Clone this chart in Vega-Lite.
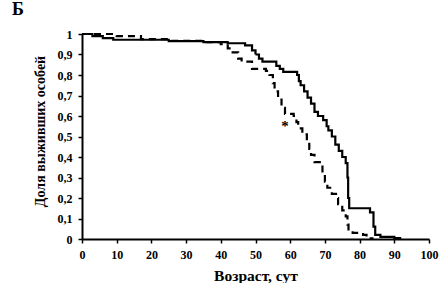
{
  "$schema": "https://vega.github.io/schema/vega-lite/v6.json",
  "width": 347,
  "height": 205,
  "autosize": {"type": "none"},
  "padding": {"left": 82, "top": 34, "right": 13, "bottom": 44},
  "background": "white",
  "title": {"text": "Б", "anchor": "start", "frame": "group", "dx": -70, "dy": 5, "offset": 14, "fontSize": 18, "font": "Liberation Serif", "fontWeight": "bold", "color": "black"},
  "config": {
    "view": {"stroke": null},
    "axis": {"domainColor": "black", "tickColor": "black", "labelColor": "black", "titleColor": "black", "labelFont": "Liberation Serif", "titleFont": "Liberation Serif", "labelFontSize": 12, "labelFontWeight": "bold", "titleFontSize": 14, "titleFontWeight": "bold", "grid": false, "domainWidth": 2, "tickWidth": 1.5, "tickSize": 4}
  },
  "datasets": {
    "curves": [
      {"age": 0, "surv": 1, "group": "A"},
      {"age": 3, "surv": 0.99, "group": "A"},
      {"age": 6, "surv": 0.98, "group": "A"},
      {"age": 9, "surv": 0.972, "group": "A"},
      {"age": 25, "surv": 0.965, "group": "A"},
      {"age": 35, "surv": 0.96, "group": "A"},
      {"age": 42, "surv": 0.955, "group": "A"},
      {"age": 47, "surv": 0.945, "group": "A"},
      {"age": 49, "surv": 0.92, "group": "A"},
      {"age": 50, "surv": 0.9, "group": "A"},
      {"age": 51, "surv": 0.88, "group": "A"},
      {"age": 52, "surv": 0.865, "group": "A"},
      {"age": 56, "surv": 0.845, "group": "A"},
      {"age": 57, "surv": 0.83, "group": "A"},
      {"age": 58, "surv": 0.815, "group": "A"},
      {"age": 62, "surv": 0.8, "group": "A"},
      {"age": 62.5, "surv": 0.77, "group": "A"},
      {"age": 63, "surv": 0.75, "group": "A"},
      {"age": 64, "surv": 0.72, "group": "A"},
      {"age": 65, "surv": 0.69, "group": "A"},
      {"age": 66, "surv": 0.66, "group": "A"},
      {"age": 67, "surv": 0.62, "group": "A"},
      {"age": 68, "surv": 0.6, "group": "A"},
      {"age": 69.5, "surv": 0.58, "group": "A"},
      {"age": 70.5, "surv": 0.55, "group": "A"},
      {"age": 71, "surv": 0.53, "group": "A"},
      {"age": 72, "surv": 0.5, "group": "A"},
      {"age": 73, "surv": 0.46, "group": "A"},
      {"age": 74, "surv": 0.43, "group": "A"},
      {"age": 75, "surv": 0.4, "group": "A"},
      {"age": 76, "surv": 0.37, "group": "A"},
      {"age": 76.5, "surv": 0.3, "group": "A"},
      {"age": 76.7, "surv": 0.2, "group": "A"},
      {"age": 77, "surv": 0.15, "group": "A"},
      {"age": 83, "surv": 0.13, "group": "A"},
      {"age": 84, "surv": 0.06, "group": "A"},
      {"age": 84.5, "surv": 0.02, "group": "A"},
      {"age": 86, "surv": 0.01, "group": "A"},
      {"age": 90, "surv": 0.005, "group": "A"},
      {"age": 92, "surv": 0.005, "group": "A"},
      {"age": 0, "surv": 1, "group": "B"},
      {"age": 10, "surv": 0.99, "group": "B"},
      {"age": 17, "surv": 0.975, "group": "B"},
      {"age": 25, "surv": 0.967, "group": "B"},
      {"age": 35, "surv": 0.96, "group": "B"},
      {"age": 40, "surv": 0.95, "group": "B"},
      {"age": 42, "surv": 0.93, "group": "B"},
      {"age": 43, "surv": 0.91, "group": "B"},
      {"age": 45, "surv": 0.88, "group": "B"},
      {"age": 46, "surv": 0.865, "group": "B"},
      {"age": 49, "surv": 0.83, "group": "B"},
      {"age": 53, "surv": 0.82, "group": "B"},
      {"age": 54, "surv": 0.8, "group": "B"},
      {"age": 55, "surv": 0.76, "group": "B"},
      {"age": 55.5, "surv": 0.72, "group": "B"},
      {"age": 56.5, "surv": 0.68, "group": "B"},
      {"age": 57.5, "surv": 0.64, "group": "B"},
      {"age": 58.5, "surv": 0.61, "group": "B"},
      {"age": 61, "surv": 0.6, "group": "B"},
      {"age": 61.8, "surv": 0.57, "group": "B"},
      {"age": 62.3, "surv": 0.54, "group": "B"},
      {"age": 63.5, "surv": 0.51, "group": "B"},
      {"age": 64.8, "surv": 0.48, "group": "B"},
      {"age": 65.5, "surv": 0.44, "group": "B"},
      {"age": 66, "surv": 0.41, "group": "B"},
      {"age": 67, "surv": 0.375, "group": "B"},
      {"age": 69, "surv": 0.36, "group": "B"},
      {"age": 69.3, "surv": 0.32, "group": "B"},
      {"age": 70, "surv": 0.28, "group": "B"},
      {"age": 70.7, "surv": 0.25, "group": "B"},
      {"age": 72, "surv": 0.22, "group": "B"},
      {"age": 73.2, "surv": 0.2, "group": "B"},
      {"age": 73.8, "surv": 0.17, "group": "B"},
      {"age": 75, "surv": 0.14, "group": "B"},
      {"age": 76, "surv": 0.11, "group": "B"},
      {"age": 76.5, "surv": 0.07, "group": "B"},
      {"age": 76.8, "surv": 0.04, "group": "B"},
      {"age": 78, "surv": 0.03, "group": "B"},
      {"age": 81, "surv": 0.02, "group": "B"},
      {"age": 82, "surv": 0.003, "group": "B"},
      {"age": 84, "surv": 0.003, "group": "B"}
    ],
    "marks": [
      {"age": 58.5, "surv": 0.55, "label": "*"}
    ]
  },
  "layer": [
    {
      "data": {"name": "curves"},
      "mark": {"type": "line", "interpolate": "step-after", "strokeWidth": 2.2, "color": "black"},
      "encoding": {
        "x": {"field": "age", "type": "quantitative", "scale": {"domain": [0, 100], "nice": false}, "axis": {"tickCount": 10, "title": "Возраст, сут", "titleFontSize": 15.5, "titlePadding": 8, "labelPadding": 6, "labelOverlap": false, "labelFlush": false}},
        "y": {"field": "surv", "type": "quantitative", "scale": {"domain": [0, 1], "nice": false}, "axis": {"tickCount": 10, "title": "Доля выживших особей", "titleY": 97, "titlePadding": 10, "labelPadding": 6, "labelOverlap": false, "labelFlush": false, "labelExpr": "datum.value == 0 || datum.value == 1 ? format(datum.value, 'd') : replace(format(datum.value, '.1f'), '.', ',')"}},
        "detail": {"field": "group"},
        "strokeDash": {"field": "group", "type": "nominal", "scale": {"domain": ["A", "B"], "range": [[1, 0], [7, 5]]}, "legend": null}
      }
    },
    {
      "data": {"name": "marks"},
      "mark": {"type": "text", "font": "Liberation Serif", "fontSize": 15, "fontWeight": "bold", "fill": "black", "baseline": "middle", "align": "center"},
      "encoding": {
        "x": {"field": "age", "type": "quantitative"},
        "y": {"field": "surv", "type": "quantitative"},
        "text": {"field": "label"}
      }
    }
  ]
}
